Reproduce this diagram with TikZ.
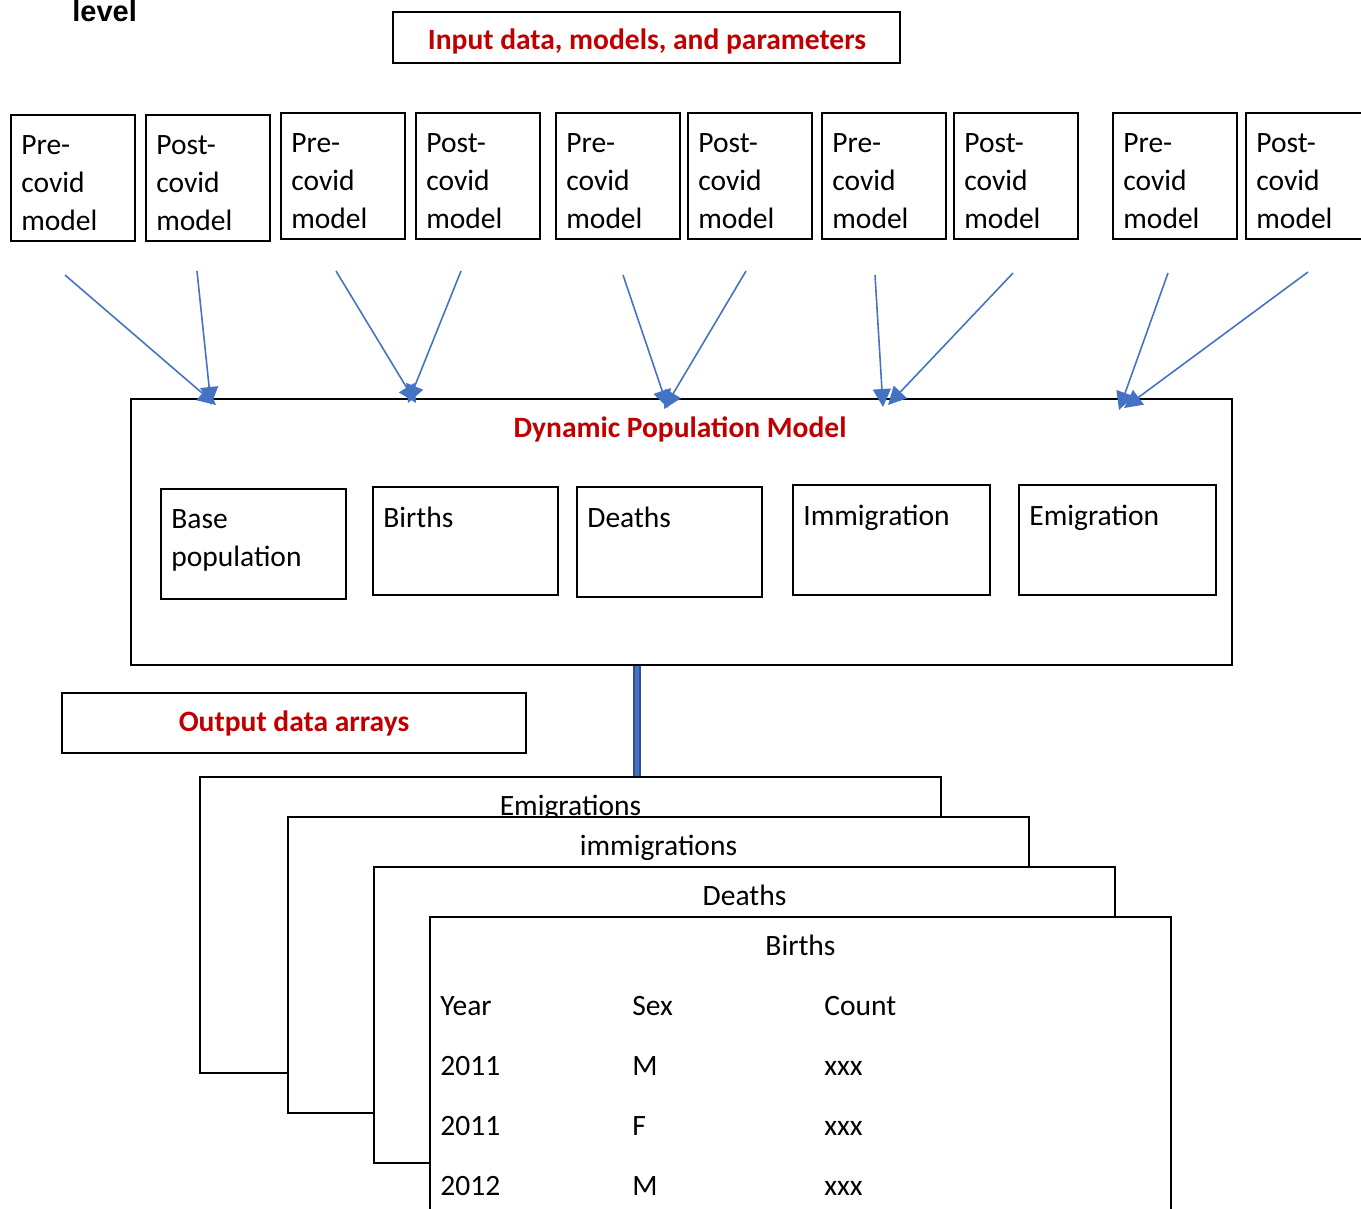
\documentclass[tikz,border=0pt]{standalone}
\usepackage{fontspec}
\setmainfont{Carlito}
\newfontfamily\arialfont{Liberation Sans}
\usetikzlibrary{arrows.meta, positioning}
\definecolor{titlered}{HTML}{C00000}
\definecolor{arrowblue}{HTML}{4472C4}
\definecolor{bardark}{HTML}{2F528F}
\newcommand{\pxu}{0.02cm}
\newcommand{\bodyfont}{\fontsize{16.8}{21.6}\selectfont}
\tikzset{
    mbox/.style={
        draw,
        line width=1.1pt,
        anchor=north west,
        inner sep=0pt,
        minimum width=124*\pxu,
        minimum height=126*\pxu
    },
    compbox/.style={
        draw,
        line width=0.9pt,
        anchor=north west,
        inner sep=0pt,
        minimum height=110*\pxu
    },
    boxtext/.style={
        anchor=north west,
        align=left,
        inner sep=0pt,
        xshift=11*\pxu,
        yshift=-21*\pxu,
        font=\bodyfont
    },
    redtitle/.style={
        text=titlered,
        font=\bodyfont\bfseries,
        inner sep=0pt
    },
    sheet/.style={
        draw,
        fill=white,
        line width=1.1pt,
        anchor=north west,
        inner sep=0pt,
        minimum width=741*\pxu,
        minimum height=296*\pxu
    },
    sheettitle/.style={
        anchor=base,
        inner sep=0pt,
        yshift=-39*\pxu,
        font=\bodyfont
    },
    cell/.style={
        anchor=base west,
        inner sep=0pt,
        font=\bodyfont
    },
    feed/.style={
        draw=arrowblue,
        line width=0.9pt,
        -{Triangle[length=0.36cm, width=0.36cm]}
    },
    bar/.style={
        draw=bardark,
        line width=1.2pt,
        double=arrowblue,
        double distance=0.07cm
    }
}

\begin{document}
\begin{tikzpicture}[x=0.02cm, y=-0.02cm]

\useasboundingbox (0,0) rectangle (1361,1208);

\node[anchor=base west, inner sep=0pt, font=\arialfont\bfseries\fontsize{16.5}{20}\selectfont] (level) at (72,21) {level};

\node[draw, line width=1pt, minimum width=507*\pxu, minimum height=51*\pxu] (input) at (646.5,37.5) {};
\node[redtitle] (inputtitle) at (647,41) {Input data, models, and parameters};

% model boxes
\node[mbox, label={[boxtext]north west:Pre-\\covid\\model}] (m1) at (10,114) {};
\node[mbox, label={[boxtext]north west:Post-\\covid\\model}] (m2) at (145,114) {};
\node[mbox, label={[boxtext]north west:Pre-\\covid\\model}] (m3) at (280,112) {};
\node[mbox, label={[boxtext]north west:Post-\\covid\\model}] (m4) at (415,112) {};
\node[mbox, label={[boxtext]north west:Pre-\\covid\\model}] (m5) at (555,112) {};
\node[mbox, label={[boxtext]north west:Post-\\covid\\model}] (m6) at (687,112) {};
\node[mbox, label={[boxtext]north west:Pre-\\covid\\model}] (m7) at (821,112) {};
\node[mbox, label={[boxtext]north west:Post-\\covid\\model}] (m8) at (953,112) {};
\node[mbox, label={[boxtext]north west:Pre-\\covid\\model}] (m9) at (1112,112) {};
\node[mbox, label={[boxtext]north west:Post-\\covid\\model}] (m10) at (1245,112) {};

% dynamic model
\node[draw, line width=1.1pt, anchor=north west, inner sep=0pt, minimum width=1101*\pxu, minimum height=266*\pxu] (dpm) at (130,398) {};
\node[redtitle] (dpmtitle) at (680,429) {Dynamic Population Model};

\node[compbox, minimum width=185*\pxu, label={[boxtext]north west:Base\\population}] (base) at (160,488) {};
\node[compbox, minimum width=185*\pxu, minimum height=108*\pxu, label={[boxtext]north west:Births}] (births) at (372,486) {};
\node[compbox, minimum width=185*\pxu, label={[boxtext]north west:Deaths}] (deaths) at (576,486) {};
\node[compbox, minimum width=197*\pxu, label={[boxtext]north west:Immigration}] (immig) at (792,484) {};
\node[compbox, minimum width=197*\pxu, label={[boxtext]north west:Emigration}] (emig) at (1018,484) {};

% arrows into the model
\coordinate (t1) at (65,275);
\coordinate (t2) at (197,271);
\coordinate (t3) at (336,271);
\coordinate (t4) at (461,271);
\coordinate (t5) at (623,275);
\coordinate (t6) at (746,271);
\coordinate (t7) at (875,275);
\coordinate (t8) at (1013,273);
\coordinate (t9) at (1168,273);
\coordinate (t10) at (1308,272);

\coordinate (h1) at (216,405);
\coordinate (h2) at (211,405);
\coordinate (h3) at (416,403);
\coordinate (h4) at (408,403);
\coordinate (h5) at (668,408);
\coordinate (h6) at (664,409);
\coordinate (h7) at (883,407);
\coordinate (h8) at (888,405);
\coordinate (h9) at (1119,410);
\coordinate (h10) at (1124,408);

\draw[feed] (t1) -- (h1);
\draw[feed] (t2) -- (h2);
\draw[feed] (t3) -- (h3);
\draw[feed] (t4) -- (h4);
\draw[feed] (t5) -- (h5);
\draw[feed] (t6) -- (h6);
\draw[feed] (t7) -- (h7);
\draw[feed] (t8) -- (h8);
\draw[feed] (t9) -- (h9);
\draw[feed] (t10) -- (h10);

% outputs
\node[redtitle, draw=black, line width=1pt, minimum width=464*\pxu, minimum height=60*\pxu] (output) at (294,723) {Output data arrays};

\node[sheet, label={[sheettitle]north:Emigrations}] (sh1) at (199,776) {};
\node[sheet, label={[sheettitle]north:immigrations}] (sh2) at (287,816) {};
\node[sheet, label={[sheettitle]north:Deaths}] (sh3) at (373,866) {};
\node[sheet, minimum height=400*\pxu, label={[sheettitle]north:Births}] (sh4) at (429,916) {};

\coordinate (barx) at (637,0);
\draw[bar] (dpm.south -| barx) -- (sh1.north -| barx);

\node[cell] (year) at (440,1015) {Year};
\node[cell] (sex) at (632,1015) {Sex};
\node[cell] (count) at (824,1015) {Count};
\node[cell] (yr1) at (440,1075) {2011};
\node[cell] (sx1) at (632,1075) {M};
\node[cell] (ct1) at (824,1075) {xxx};
\node[cell] (yr2) at (440,1135) {2011};
\node[cell] (sx2) at (632,1135) {F};
\node[cell] (ct2) at (824,1135) {xxx};
\node[cell] (yr3) at (440,1195) {2012};
\node[cell] (sx3) at (632,1195) {M};
\node[cell] (ct3) at (824,1195) {xxx};

\end{tikzpicture}
\end{document}
